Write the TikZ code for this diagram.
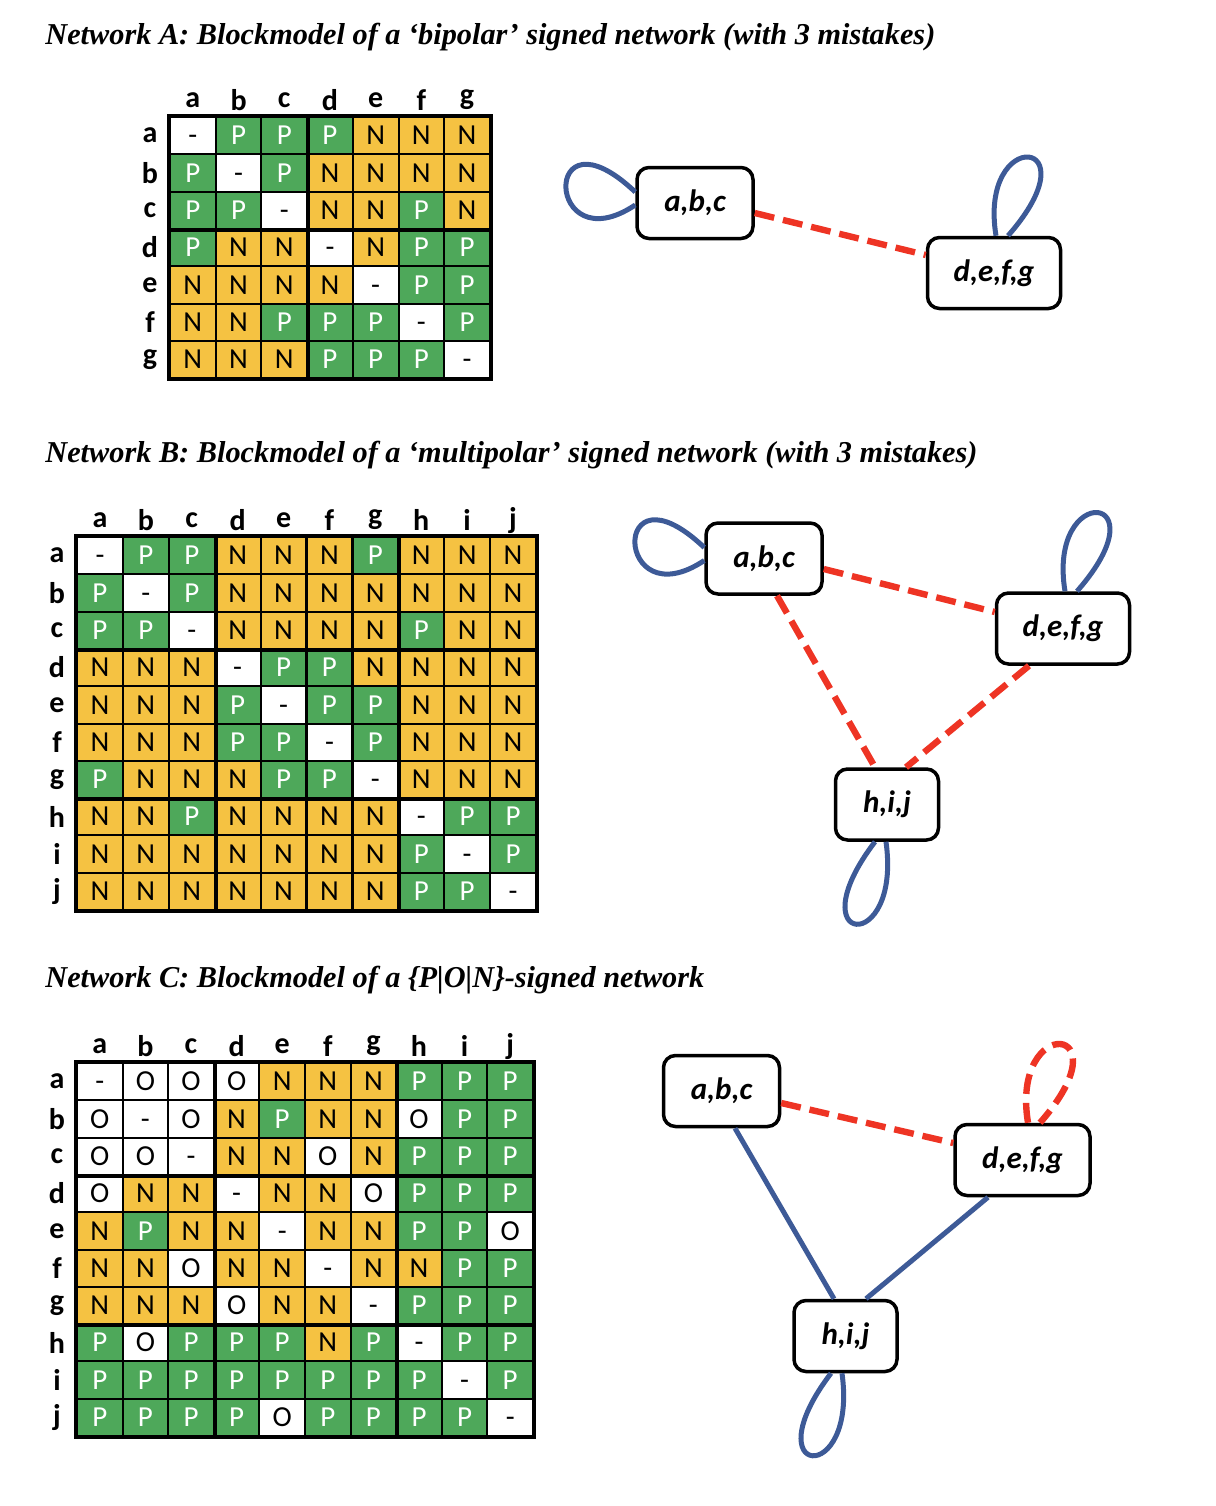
\documentclass[tikz,border=0pt]{standalone}
\usepackage{fontspec}
\setmainfont{Liberation Serif}
\newfontfamily\calibri{Carlito}
\usetikzlibrary{positioning}

\definecolor{pgreen}{HTML}{4EA85A}
\definecolor{porange}{HTML}{F5C242}
\definecolor{posblue}{HTML}{3D5A97}
\definecolor{negred}{HTML}{EE3424}

% fill and text colour of a cell, looked up by its entry
\def\cfP{pgreen}\def\cfN{porange}\def\cfO{white}
\expandafter\def\csname cf-\endcsname{white}
\def\ctP{white}\def\ctN{black}\def\ctO{black}
\expandafter\def\csname ct-\endcsname{black}

\tikzset{
        cell/.style={draw, line width=1pt, minimum width=22.85pt, minimum height=18.65pt, inner sep=0pt,
                     fill=\csname cf#1\endcsname, text=\csname ct#1\endcsname,
                     text height=9.2pt, text depth=0pt,
                     font=\calibri\fontsize{14.5}{14.5}\selectfont}, % one entry of a blockmodel
        blockline/.style={line width=2pt}, % block borders
        headlabel/.style={font=\calibri\bfseries\fontsize{15}{15}\selectfont, inner sep=0pt},
        title/.style={font=\bfseries\itshape\fontsize{15.15}{15.15}\selectfont, anchor=west, inner sep=0pt},
        group/.style={draw, fill=white, line width=1.75pt, rounded corners=6pt, minimum height=35.5pt,
                      font=\calibri\bfseries\itshape\fontsize{15.5}{15.5}\selectfont},
        posline/.style={posblue, line width=2.5pt},
        negline/.style={negred, line width=3.2pt, dash pattern=on 10pt off 4.5pt},
    }

\begin{document}
\begin{tikzpicture}[x=0.5pt,y=-0.5pt]
    \useasboundingbox (0,0) rectangle (1216,1506);

    % Network A
    \node[title] (titleA) at (45,37) {Network A: Blockmodel of a ‘bipolar’ signed network (with 3 mistakes)};
    \foreach \row [count=\i] in {{-,P,P,P,N,N,N},{P,-,P,N,N,N,N},{P,P,-,N,N,P,N},
                                 {P,N,N,-,N,P,P},{N,N,N,N,-,P,P},{N,N,P,P,P,-,P},{N,N,N,P,P,P,-}} {
        \foreach \v [count=\j] in \row
            \node[cell=\v] (A-\i-\j) at ({170+(\j-0.5)*45.7},{117+(\i-0.5)*37.3}) {\v};
    }
    \foreach \l [count=\k] in {a,...,g} {
        \node[headlabel] (A-c\k) at ({170+(\k-0.5)*45.7},100) {\l};
        \node[headlabel] (A-r\k) at (150,{117+(\k-0.5)*37.3}) {\l};
    }
    \draw[blockline] (A-1-3.north east) -- (A-7-3.south east);
    \draw[blockline] (A-3-1.south west) -- (A-3-7.south east);
    \draw[blockline] (A-1-1.north west) rectangle (A-7-7.south east);

    \node[group, minimum width=58pt] (A-abc) at (695,203) {a,b,c};
    \node[group, minimum width=66.5pt] (A-defg) at (994,273) {d,e,f,g};
    \draw[negline] ([yshift=-5pt]A-abc.east) -- ([yshift=9pt]A-defg.west);
    \draw[posline] ([yshift=5.5pt]A-abc.west) .. controls +(-95,-90) and +(-90,60) .. ([yshift=-1pt]A-abc.west);
    \draw[posline] ([xshift=1pt]A-defg.north) .. controls +(-18,-110) and +(88,-100) .. ([xshift=7pt]A-defg.north);

    % Network B
    \node[title] (titleB) at (45,455) {Network B: Blockmodel of a ‘multipolar’ signed network (with 3 mistakes)};
    \foreach \row [count=\i] in {{-,P,P,N,N,N,P,N,N,N},{P,-,P,N,N,N,N,N,N,N},{P,P,-,N,N,N,N,P,N,N},
                                 {N,N,N,-,P,P,N,N,N,N},{N,N,N,P,-,P,P,N,N,N},{N,N,N,P,P,-,P,N,N,N},
                                 {P,N,N,N,P,P,-,N,N,N},{N,N,P,N,N,N,N,-,P,P},{N,N,N,N,N,N,N,P,-,P},
                                 {N,N,N,N,N,N,N,P,P,-}} {
        \foreach \v [count=\j] in \row
            \node[cell=\v] (B-\i-\j) at ({77+(\j-0.5)*45.9},{537+(\i-0.5)*37.3}) {\v};
    }
    \foreach \l [count=\k] in {a,...,j} {
        \node[headlabel] (B-c\k) at ({77+(\k-0.5)*45.9},520) {\l};
        \node[headlabel] (B-r\k) at (57,{537+(\k-0.5)*37.3}) {\l};
    }
    \foreach \k in {3,7} {
        \draw[blockline] (B-1-\k.north east) -- (B-10-\k.south east);
        \draw[blockline] (B-\k-1.south west) -- (B-\k-10.south east);
    }
    \draw[blockline] (B-1-1.north west) rectangle (B-10-10.south east);

    \node[group, minimum width=58pt] (B-abc) at (764,558.5) {a,b,c};
    \node[group, minimum width=66.5pt] (B-defg) at (1063,628.5) {d,e,f,g};
    \node[group, minimum width=51.5pt] (B-hij) at (887,804.5) {h,i,j};
    \draw[negline] ([yshift=-5.25pt]B-abc.east) -- ([yshift=8.25pt]B-defg.west);
    \draw[negline] ([xshift=6.5pt]B-abc.south) -- ([xshift=-6pt]B-hij.north);
    \draw[negline] ([xshift=-17pt]B-defg.south) -- ([xshift=9.5pt]B-hij.north);
    \draw[posline] ([yshift=5.5pt]B-abc.west) .. controls +(-95,-90) and +(-90,60) .. ([yshift=-1pt]B-abc.west);
    \draw[posline] ([xshift=1pt]B-defg.north) .. controls +(-18,-110) and +(88,-100) .. ([xshift=7pt]B-defg.north);
    \draw[posline] ([xshift=-6pt]B-hij.south) .. controls +(-80,105) and +(16,115) .. ([xshift=-0.5pt]B-hij.south);

    % Network C
    \node[title] (titleC) at (45,980) {Network C: Blockmodel of a \{P|O|N\}-signed network};
    \foreach \row [count=\i] in {{-,O,O,O,N,N,N,P,P,P},{O,-,O,N,P,N,N,O,P,P},{O,O,-,N,N,O,N,P,P,P},
                                 {O,N,N,-,N,N,O,P,P,P},{N,P,N,N,-,N,N,P,P,O},{N,N,O,N,N,-,N,N,P,P},
                                 {N,N,N,O,N,N,-,P,P,P},{P,O,P,P,P,N,P,-,P,P},{P,P,P,P,P,P,P,P,-,P},
                                 {P,P,P,P,O,P,P,P,P,-}} {
        \foreach \v [count=\j] in \row
            \node[cell=\v] (C-\i-\j) at ({77+(\j-0.5)*45.6},{1063+(\i-0.5)*37.3}) {\v};
    }
    \foreach \l [count=\k] in {a,...,j} {
        \node[headlabel] (C-c\k) at ({77+(\k-0.5)*45.6},1046) {\l};
        \node[headlabel] (C-r\k) at (57,{1063+(\k-0.5)*37.3}) {\l};
    }
    \foreach \k in {3,7} {
        \draw[blockline] (C-1-\k.north east) -- (C-10-\k.south east);
        \draw[blockline] (C-\k-1.south west) -- (C-\k-10.south east);
    }
    \draw[blockline] (C-1-1.north west) rectangle (C-10-10.south east);

    \node[group, minimum width=58pt] (C-abc) at (721.5,1091) {a,b,c};
    \node[group, minimum width=67.5pt] (C-defg) at (1022.5,1160) {d,e,f,g};
    \node[group, minimum width=51.5pt] (C-hij) at (845.5,1336) {h,i,j};
    \draw[negline] ([yshift=-6pt]C-abc.east) -- ([yshift=8.5pt]C-defg.west);
    \draw[posline] ([xshift=6.75pt]C-abc.south) -- ([xshift=-5.75pt]C-hij.north);
    \draw[posline] ([xshift=-17.25pt]C-defg.south) -- ([xshift=10.25pt]C-hij.north);
    \draw[negline] ([xshift=2.75pt]C-defg.north) .. controls +(-18,-110) and +(88,-100) .. ([xshift=8.75pt]C-defg.north);
    \draw[posline] ([xshift=-7.25pt]C-hij.south) .. controls +(-80,105) and +(16,115) .. ([xshift=-1.75pt]C-hij.south);
\end{tikzpicture}
\end{document}
